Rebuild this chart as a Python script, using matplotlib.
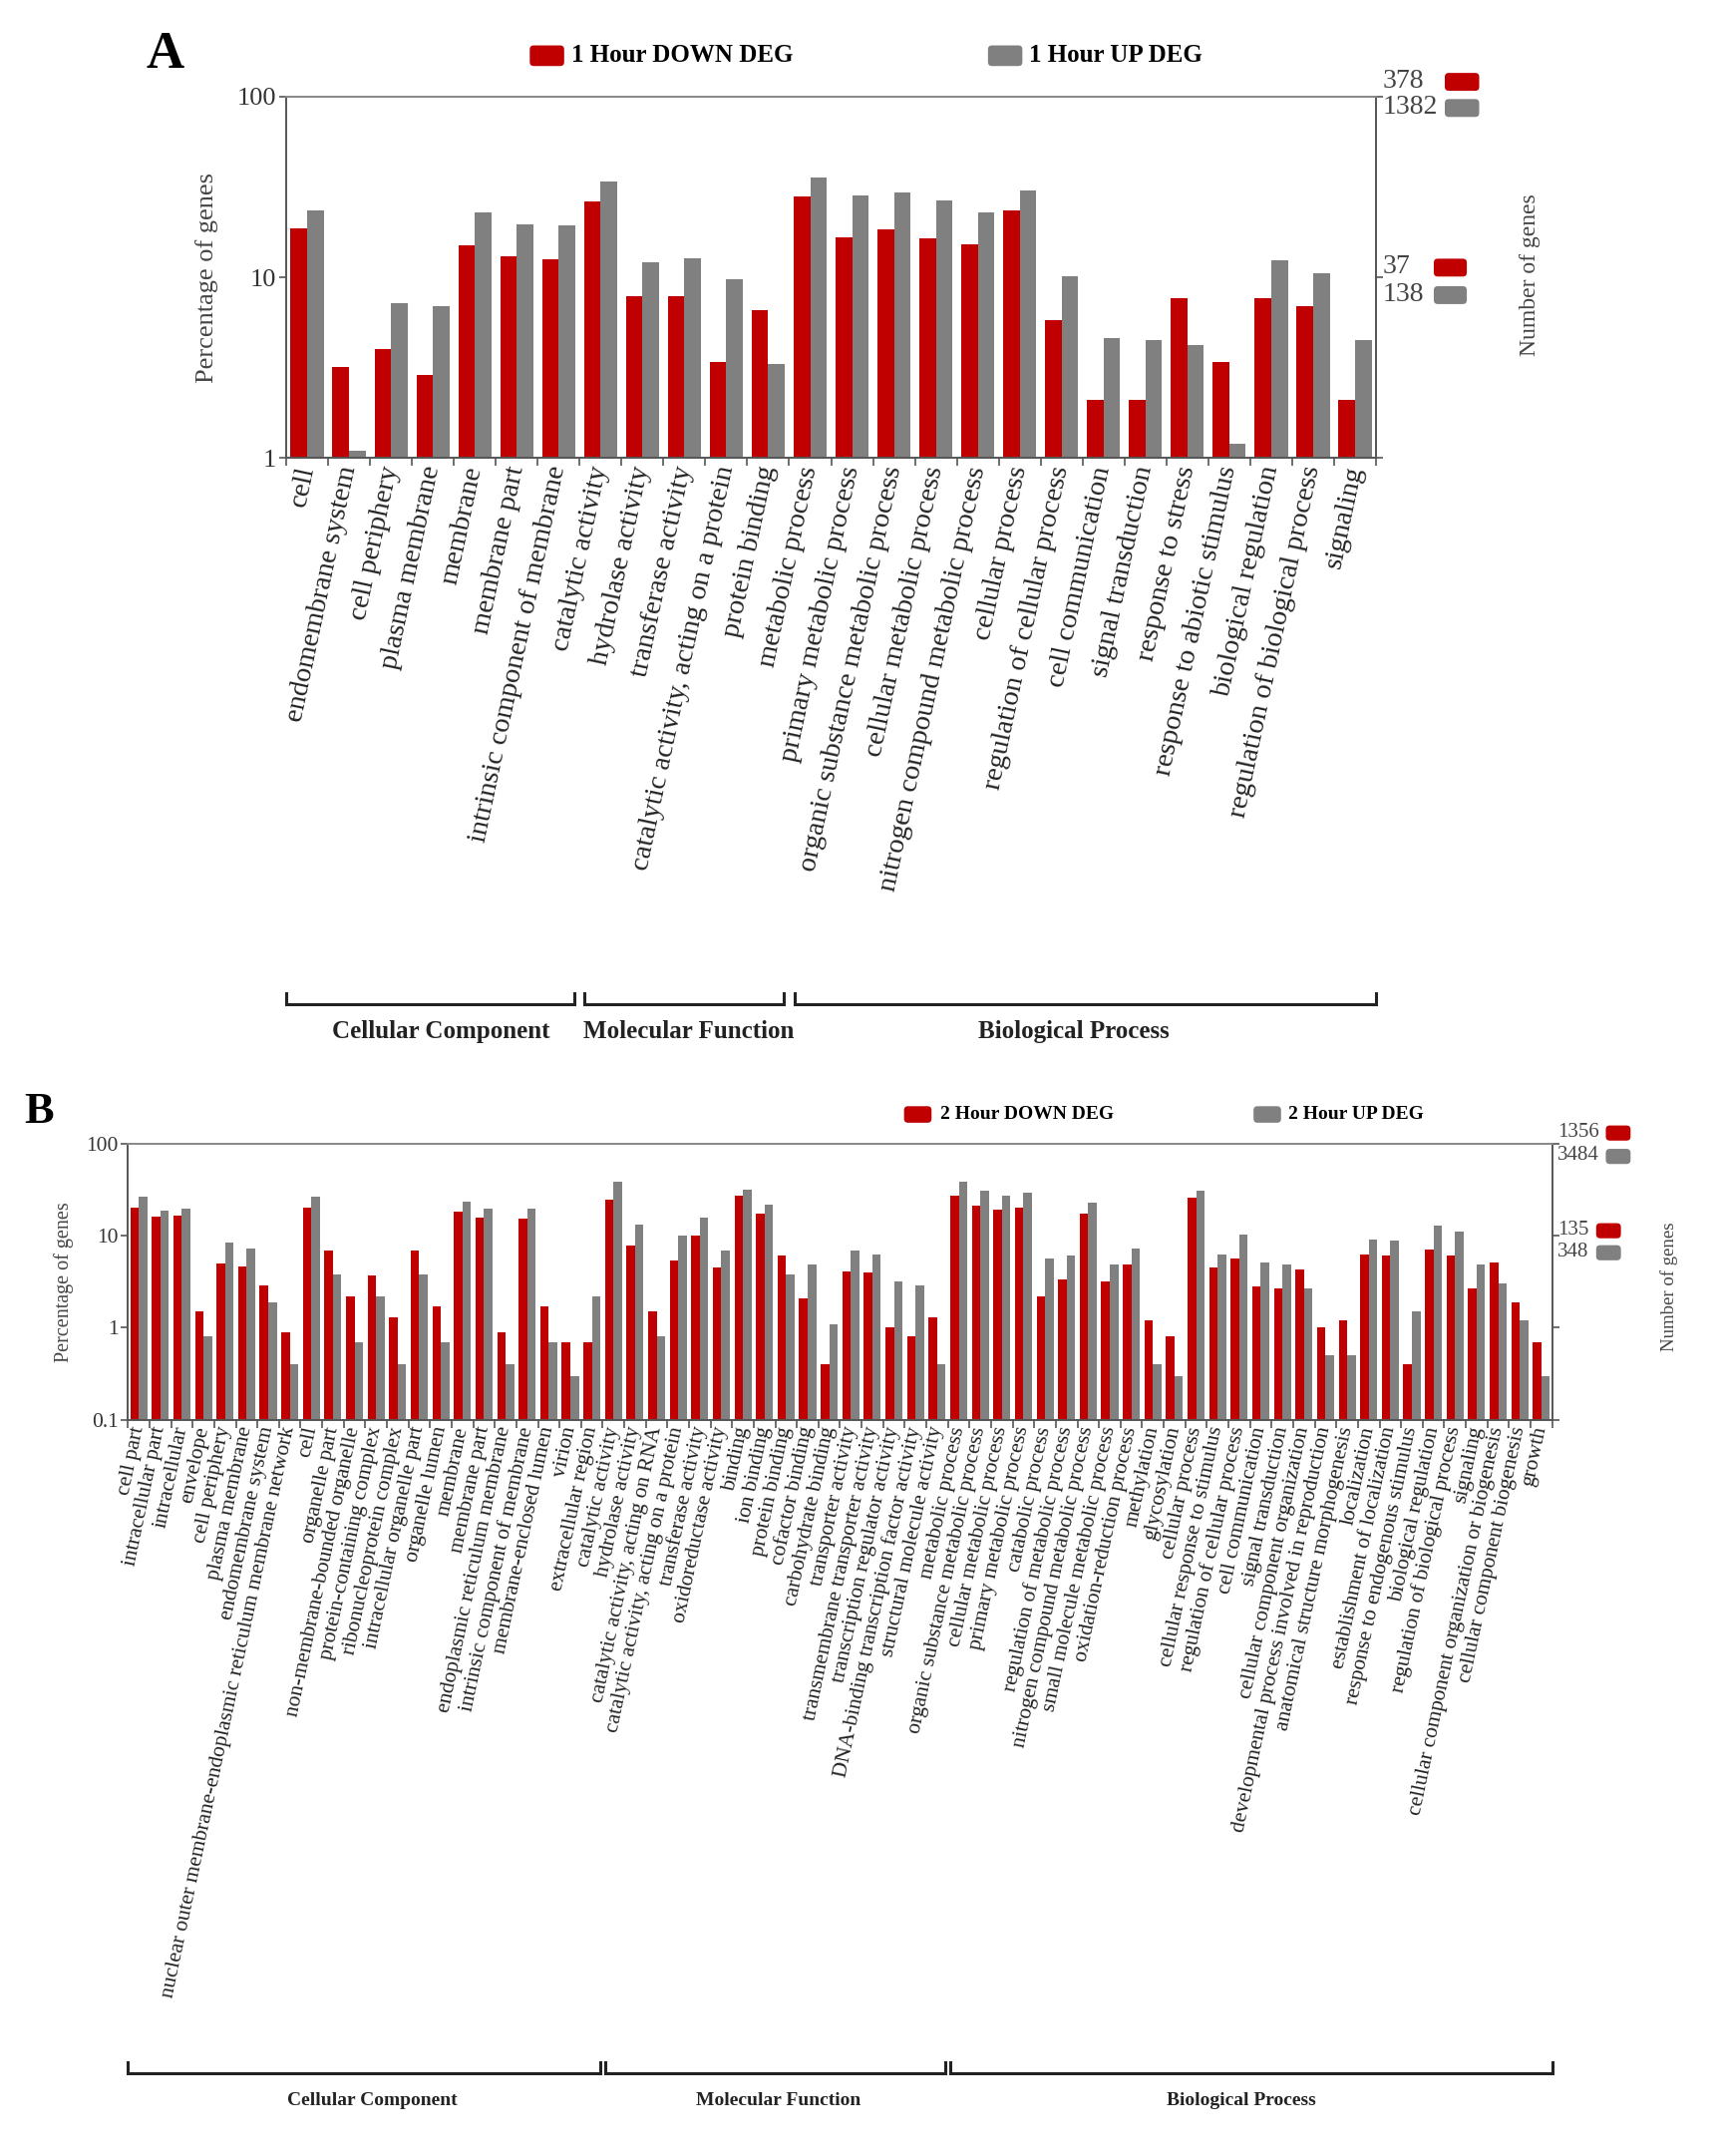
import numpy as np
import matplotlib
matplotlib.use("Agg")
from matplotlib import pyplot as plt
from matplotlib import transforms
from matplotlib.patches import FancyBboxPatch
from matplotlib.ticker import NullLocator

plt.rcParams['font.family'] = ['Liberation Serif', 'DejaVu Serif']

RED = "#c00000"
GRAY = "#808080"

# ---------- panel A: 1 hour ----------
a_terms = ["cell", "endomembrane system", "cell periphery", "plasma membrane",
           "membrane", "membrane part", "intrinsic component of membrane",
           "catalytic activity", "hydrolase activity", "transferase activity",
           "catalytic activity, acting on a protein", "protein binding",
           "metabolic process", "primary metabolic process",
           "organic substance metabolic process", "cellular metabolic process",
           "nitrogen compound metabolic process", "cellular process",
           "regulation of cellular process", "cell communication",
           "signal transduction", "response to stress",
           "response to abiotic stimulus", "biological regulation",
           "regulation of biological process", "signaling"]
a_down = [18.7, 3.2, 4.0, 2.9, 15.0, 13.0, 12.5, 26.1, 7.9, 7.9, 3.4, 6.6,
          27.9, 16.7, 18.5, 16.4, 15.3, 23.5, 5.8, 2.1, 2.1, 7.7, 3.4, 7.7,
          6.9, 2.1]
a_up = [23.5, 1.1, 7.2, 6.9, 22.9, 19.6, 19.4, 33.7, 12.1, 12.8, 9.8, 3.3,
        35.6, 28.3, 29.4, 26.6, 22.9, 30.2, 10.1, 4.6, 4.5, 4.2, 1.2, 12.4,
        10.5, 4.5]
a_group_sizes = [7, 5, 14]
a_legend = ["1 Hour DOWN DEG", "1 Hour UP DEG"]
a_num_top = ["378", "1382"]
a_num_mid = ["37", "138"]

# ---------- panel B: 2 hour ----------
b_terms = ["cell part", "intracellular part", "intracellular", "envelope",
           "cell periphery", "plasma membrane", "endomembrane system",
           "nuclear outer membrane-endoplasmic reticulum membrane network",
           "cell", "organelle part", "non-membrane-bounded organelle",
           "protein-containing complex", "ribonucleoprotein complex",
           "intracellular organelle part", "organelle lumen", "membrane",
           "membrane part", "endoplasmic reticulum membrane",
           "intrinsic component of membrane", "membrane-enclosed lumen",
           "virion", "extracellular region",
           "catalytic activity", "hydrolase activity",
           "catalytic activity, acting on RNA",
           "catalytic activity, acting on a protein", "transferase activity",
           "oxidoreductase activity", "binding", "ion binding",
           "protein binding", "cofactor binding", "carbohydrate binding",
           "transporter activity", "transmembrane transporter activity",
           "transcription regulator activity",
           "DNA-binding transcription factor activity",
           "structural molecule activity",
           "metabolic process", "organic substance metabolic process",
           "cellular metabolic process", "primary metabolic process",
           "catabolic process", "regulation of metabolic process",
           "nitrogen compound metabolic process",
           "small molecule metabolic process", "oxidation-reduction process",
           "methylation", "glycosylation", "cellular process",
           "cellular response to stimulus", "regulation of cellular process",
           "cell communication", "signal transduction",
           "cellular component organization",
           "developmental process involved in reproduction",
           "anatomical structure morphogenesis", "localization",
           "establishment of localization", "response to endogenous stimulus",
           "biological regulation", "regulation of biological process",
           "signaling", "cellular component organization or biogenesis",
           "cellular component biogenesis", "growth"]
b_down = [20.1, 16.1, 16.5, 1.5, 5.0, 4.6, 2.9, 0.9, 20.1, 6.9, 2.2, 3.7,
          1.3, 6.9, 1.7, 18.1, 15.7, 0.9, 15.1, 1.7, 0.7, 0.7,
          24.2, 7.7, 1.5, 5.3, 9.9, 4.5, 27.0, 17.2, 6.1, 2.1, 0.4, 4.1, 4.0,
          1.0, 0.8, 1.3,
          26.8, 21.2, 19.0, 20.1, 2.2, 3.3, 17.5, 3.2, 4.8, 1.2, 0.8, 25.5,
          4.5, 5.7, 2.8, 2.7, 4.3, 1.0, 1.2, 6.2, 6.0, 0.4, 7.1, 6.0, 2.7,
          5.1, 1.9, 0.7]
b_up = [26.3, 18.7, 19.5, 0.8, 8.3, 7.2, 1.9, 0.4, 26.3, 3.8, 0.7, 2.2,
        0.4, 3.8, 0.7, 23.4, 19.8, 0.4, 19.5, 0.7, 0.3, 2.2,
        38.3, 13.2, 0.8, 10.0, 15.8, 6.9, 31.4, 21.9, 3.8, 4.9, 1.1, 6.8,
        6.3, 3.2, 2.9, 0.4,
        38.3, 30.3, 26.8, 29.1, 5.7, 6.1, 23.0, 4.9, 7.2, 0.4, 0.3, 30.8,
        6.3, 10.3, 5.1, 4.8, 2.7, 0.5, 0.5, 9.0, 8.8, 1.5, 12.7, 11.1, 4.8,
        3.0, 1.2, 0.3]
b_group_sizes = [22, 16, 28]
b_legend = ["2 Hour DOWN DEG", "2 Hour UP DEG"]
b_num_top = ["1356", "3484"]
b_num_mid = ["135", "348"]

group_names = ["Cellular Component", "Molecular Function", "Biological Process"]

# layout is worked out on a 1250 x 1567 grid
W, H = 1250.0, 1567.0
FW, FH = 17.25, 21.62
fig = plt.figure(figsize=(FW, FH), dpi=100)


def P(x, y):
    return x / W, 1 - y / H


def box(x, y, w, h, color):
    # rounded box, placed in inches so corners stay round
    p = FancyBboxPatch((x / W * FW, (1 - (y + h) / H) * FH), w / W * FW,
                       h / H * FH, boxstyle="round,pad=0,rounding_size=0.04",
                       transform=fig.dpi_scale_trans, color=color, lw=0)
    fig.patches.append(p)


def panel(rect, terms, down, up, ylo, yticks, ytl, sizes, fs):
    ax = fig.add_axes(rect)
    n = len(terms)
    x = np.arange(n)
    w = 0.395
    ax.bar(x - w / 2, np.asarray(down) - ylo, w, bottom=ylo, color=RED, lw=0)
    ax.bar(x + w / 2, np.asarray(up) - ylo, w, bottom=ylo, color=GRAY, lw=0)
    ax.set_yscale('log')
    ax.set_ylim(ylo, 100)
    ax.set_xlim(-0.5, n - 0.5)
    ax.set_yticks(yticks)
    ax.set_yticklabels(ytl, fontsize=fs['ytick'], color="#333333")
    ax.yaxis.set_minor_locator(NullLocator())
    ax.tick_params(axis='y', which='major', direction='out', length=5,
                   width=1.2, color="#555555", right=True, pad=2)
    ax.set_xticks(x)
    ax.set_xticklabels(terms, rotation=78, ha='right', va='center',
                       rotation_mode='anchor', fontsize=fs['xtick'],
                       color="#222222")
    ax.tick_params(axis='x', which='major', length=0, pad=fs['xpad'])
    ax.set_xticks(np.arange(n + 1) - 0.5, minor=True)
    ax.tick_params(axis='x', which='minor', direction='out', length=6,
                   width=1.2, color="#555555")
    for s in ax.spines.values():
        s.set_color("#555555")
        s.set_linewidth(1.4)
    ax.spines['top'].set_color("#888888")

    # group brackets under the labels
    tr = transforms.blended_transform_factory(ax.transData, fig.transFigure)
    edges = np.concatenate([[0], np.cumsum(sizes)]) - 0.5
    yl = 1 - fs['bry'] / H
    yt = 1 - (fs['bry'] - 8) / H
    for i, name in enumerate(group_names):
        x0, x1 = edges[i] + 0.12, edges[i + 1] - 0.12
        if i == 0:
            x0 = edges[i]
        if i == len(group_names) - 1:
            x1 = edges[i + 1]
        ax.plot([x0, x0, x1, x1], [yt, yl, yl, yt], color="#222222", lw=2.2,
                transform=tr, clip_on=False, solid_joinstyle='miter')
        ax.text((x0 + x1) / 2 + fs['broff'][i], 1 - fs['brt'] / H, name,
                transform=tr, ha='center', va='center', fontsize=fs['br'],
                fontweight='bold', color="#222222")
    return ax


# ---------- draw A ----------
axa = panel([208 / W, 1 - 333 / H, 792 / W, 263 / H], a_terms, a_down, a_up,
            1, [1, 10, 100], ["1", "10", "100"], a_group_sizes,
            dict(ytick=19, xtick=20.5, xpad=6, bry=730, brt=750, br=18,
                 broff=[0.25, 0.1, -0.27]))
axa.set_ylabel("Percentage of genes", fontsize=19, color="#444444")
axa.yaxis.set_label_coords(-0.062, 0.5)
fig.text(*P(120, 40), "A", fontsize=38, fontweight='bold', ha='center',
         va='center')
box(385, 33, 25, 15, RED)
fig.text(*P(415, 40), a_legend[0], fontsize=18, fontweight='bold',
         va='center')
box(718, 33, 25, 15, GRAY)
fig.text(*P(748, 40), a_legend[1], fontsize=18, fontweight='bold',
         va='center')
fig.text(*P(1005, 59), a_num_top[0], fontsize=20, color="#444444", va='center')
box(1050, 53, 25, 13, RED)
fig.text(*P(1005, 78), a_num_top[1], fontsize=20, color="#444444", va='center')
box(1050, 72, 25, 13, GRAY)
fig.text(*P(1005, 194), a_num_mid[0], fontsize=20, color="#444444", va='center')
box(1042, 188, 24, 13, RED)
fig.text(*P(1005, 214), a_num_mid[1], fontsize=20, color="#444444", va='center')
box(1042, 208, 24, 13, GRAY)
fig.text(*P(1112, 200), "Number of genes", fontsize=17, color="#444444",
         rotation=90, ha='center', va='center')

# ---------- draw B ----------
axb = panel([93 / W, 1 - 1032 / H, 1035 / W, 201 / H], b_terms, b_down, b_up,
            0.1, [0.1, 1, 10, 100], ["0.1", "1", "10", "100"], b_group_sizes,
            dict(ytick=15.5, xtick=15.5, xpad=5, bry=1507, brt=1527, br=14,
                 broff=[0.4, 0.15, -0.45]))
axb.set_ylabel("Percentage of genes", fontsize=14.5, color="#444444")
axb.yaxis.set_label_coords(-0.038, 0.5)
fig.text(*P(28, 808), "B", fontsize=32, fontweight='bold', ha='center',
         va='center')
box(657, 804, 20, 12, RED)
fig.text(*P(683, 810), b_legend[0], fontsize=14, fontweight='bold',
         va='center')
box(911, 804, 20, 12, GRAY)
fig.text(*P(936, 810), b_legend[1], fontsize=14, fontweight='bold',
         va='center')
fig.text(*P(1132, 823), b_num_top[0], fontsize=15, color="#444444", va='center')
box(1167, 818, 18, 11, RED)
fig.text(*P(1132, 840), b_num_top[1], fontsize=15, color="#444444", va='center')
box(1167, 835, 18, 11, GRAY)
fig.text(*P(1132, 894), b_num_mid[0], fontsize=15, color="#444444", va='center')
box(1160, 889, 18, 11, RED)
fig.text(*P(1132, 910), b_num_mid[1], fontsize=15, color="#444444", va='center')
box(1160, 905, 18, 11, GRAY)
fig.text(*P(1213, 935), "Number of genes", fontsize=13.5, color="#444444",
         rotation=90, ha='center', va='center')

fig.savefig("out.png", dpi=100)
